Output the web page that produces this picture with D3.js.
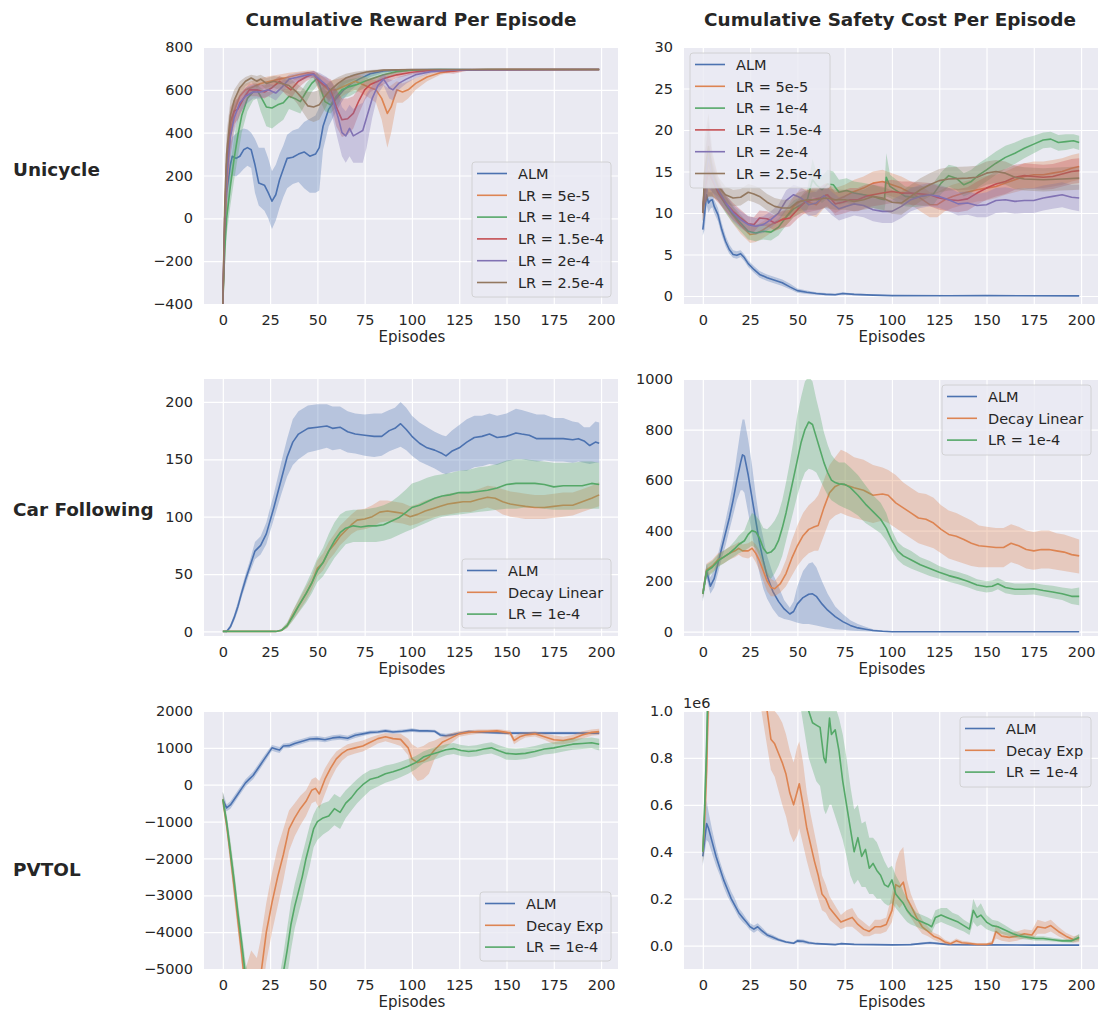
<!DOCTYPE html>
<html><head><meta charset="utf-8">
<script src="https://cdn.jsdelivr.net/npm/d3@7"></script>
<style>body{margin:0;background:#fff}svg{display:block}text{font-family:"DejaVu Sans",sans-serif;fill:#262626}</style>
</head><body><svg id="c" width="1099" height="1013"></svg>
<script>
// ---------- tick labels ----------
const episodeTicks = [0,25,50,75,100,125,150,175,200];
const uniRewardTicks = [-400,-200,0,200,400,600,800];
const uniCostTicks = [0,5,10,15,20,25,30];
const carRewardTicks = [0,50,100,150,200];
const carCostTicks = [0,200,400,600,800,1000];
const pvRewardTicks = [-5000,-4000,-3000,-2000,-1000,0,1000,2000];
const pvCostTicks = [0.0,0.2,0.4,0.6,0.8,1.0];

const colTitles = ["Cumulative Reward Per Episode","Cumulative Safety Cost Per Episode"];
const rowTitles = ["Unicycle","Car Following","PVTOL"];
const uniNames = ["ALM","LR = 5e-5","LR = 1e-4","LR = 1.5e-4","LR = 2e-4","LR = 2.5e-4"];
const carNames = ["ALM","Decay Linear","LR = 1e-4"];
const pvNames = ["ALM","Decay Exp","LR = 1e-4"];

// ---------- data: [episode, mean, lower, upper] ----------
const uniRewAlm = [[0,-400,-400,-400],[1,-50,-150,50],[2,120,0,230],[4,250,150,350],[5,290,200,380],[7,280,195,395],[9,290,210,410],[11,320,230,420],[13,330,245,415],[15,320,235,400],[17,250,120,370],[19,165,60,330],[22,155,35,330],[24,120,0,280],[26,80,-50,220],[28,110,-10,250],[30,180,50,300],[32,230,100,340],[34,280,140,390],[37,285,160,410],[40,300,170,420],[43,310,140,450],[46,290,120,465],[49,300,120,480],[51,330,130,520],[53,430,320,550],[56,510,430,590],[60,560,500,630],[64,600,560,650],[68,630,600,670],[72,650,630,680],[78,675,660,690],[85,688,680,694],[95,694,690,697],[110,695,694,697],[199,695,695,695]];
const uniRew5e5 = [[0,-400,-400,-400],[1,-100,-200,0],[2,150,50,250],[4,400,300,480],[6,500,420,560],[9,570,520,610],[12,600,570,630],[15,610,580,640],[20,630,600,655],[25,640,615,665],[30,650,625,672],[35,660,640,680],[40,670,650,685],[45,680,665,690],[48,675,655,690],[50,650,610,680],[53,620,570,660],[56,600,560,640],[60,600,550,650],[65,620,580,660],[70,640,600,670],[74,625,580,665],[78,610,560,650],[81,600,540,645],[84,560,460,630],[87,490,330,610],[89,520,400,620],[92,600,540,640],[95,590,540,630],[98,600,560,640],[102,630,600,655],[108,660,640,675],[115,680,670,690],[125,693,688,697],[140,695,694,697],[199,695,695,695]];
const uniRew1e4 = [[0,-400,-400,-400],[1,-150,-250,-50],[2,0,-80,80],[4,150,60,250],[6,280,180,380],[8,390,290,480],[10,480,400,550],[13,560,500,610],[16,590,550,620],[18,600,560,625],[20,570,500,610],[23,520,430,590],[26,515,420,590],[29,530,440,600],[32,540,460,600],[35,570,510,610],[38,560,500,600],[41,545,490,590],[44,590,540,630],[47,630,590,660],[50,655,620,680],[52,600,540,650],[54,545,500,600],[57,530,490,580],[60,570,520,610],[63,600,560,640],[67,615,570,650],[71,625,590,655],[75,640,610,665],[80,655,630,675],[85,670,650,685],[92,685,675,692],[100,692,688,696],[115,695,693,697],[133,693,688,697],[140,695,694,697],[199,695,695,695]];
const uniRew15e4 = [[0,-400,-400,-400],[1,0,-100,100],[2,250,130,350],[4,450,370,520],[6,500,440,550],[8,510,460,560],[11,560,520,600],[14,600,570,630],[18,600,570,630],[22,590,560,620],[26,610,580,640],[30,640,610,665],[33,620,580,650],[36,600,560,640],[40,640,610,665],[44,660,640,680],[48,675,660,688],[51,640,600,670],[54,620,570,660],[57,600,540,650],[60,520,430,600],[63,460,380,560],[66,465,390,560],[69,490,420,570],[72,550,490,610],[75,600,550,640],[78,625,590,655],[82,640,610,665],[86,655,630,675],[92,670,655,685],[100,682,672,690],[110,690,685,695],[122,688,675,697],[130,694,690,697],[199,695,695,695]];
const uniRew2e4 = [[0,-400,-400,-400],[1,0,-100,100],[2,200,80,320],[4,380,280,460],[6,470,400,530],[9,540,490,580],[12,570,530,610],[16,590,560,625],[20,590,560,625],[24,600,570,630],[28,585,550,620],[31,610,580,640],[35,650,625,670],[40,660,640,680],[45,670,655,685],[48,672,655,688],[51,650,610,680],[55,620,560,660],[58,560,470,630],[61,470,360,580],[63,400,290,520],[65,385,260,500],[67,420,290,530],[69,385,260,510],[72,400,260,530],[74,410,260,540],[76,470,330,580],[79,560,470,620],[82,620,580,650],[85,650,620,675],[88,610,560,650],[90,600,550,645],[93,630,600,660],[97,650,630,670],[102,670,655,685],[110,685,678,692],[120,693,688,697],[199,695,695,695]];
const uniRew25e4 = [[0,-400,-400,-400],[1,50,-50,150],[2,300,180,400],[4,480,400,550],[6,550,490,600],[9,610,570,640],[12,640,615,660],[15,655,635,670],[18,640,610,665],[20,650,625,670],[23,630,600,655],[27,640,610,665],[31,630,595,660],[35,620,580,655],[39,590,540,630],[42,560,500,610],[45,525,460,590],[48,520,450,590],[51,530,460,600],[54,570,510,620],[57,600,560,640],[61,630,600,660],[65,655,630,675],[70,670,650,685],[76,683,672,692],[85,692,686,697],[100,695,693,697],[199,695,695,695]];

const uniCostAlm = [[0,8,7.3,9],[1,10,8,11.5],[2,12.2,11,13.5],[3,11.2,10,12.5],[4,11.5,10.5,12.5],[5,11.6,10.7,12.5],[6,10.8,10,11.6],[8,9.8,9,10.6],[10,8,7.3,8.8],[12,6.6,6,7.3],[14,5.6,5.1,6.2],[16,5,4.6,5.5],[18,4.9,4.5,5.4],[20,5.1,4.7,5.5],[22,4.6,4.2,5],[24,3.9,3.5,4.3],[27,3.2,2.8,3.6],[30,2.6,2.2,3],[34,2.2,1.8,2.6],[38,1.9,1.5,2.3],[42,1.6,1.2,2],[46,1.1,0.8,1.5],[50,0.65,0.4,0.9],[55,0.45,0.25,0.65],[60,0.3,0.15,0.45],[65,0.2,0.1,0.35],[70,0.15,0.05,0.3],[74,0.3,0.15,0.45],[80,0.2,0.1,0.3],[90,0.1,0.05,0.2],[100,0.05,0.02,0.1],[130,0.03,0,0.06],[150,0.04,0,0.08],[199,0.02,0,0.04]];
const uniCost5e5 = [[0,10,9,11],[1,14,11,17],[3,16,12,20],[5,14.5,12,17],[8,13,11.5,14.5],[11,11.5,10.5,12.5],[15,10,9,11],[20,8.5,7.5,9.5],[25,7.4,6.4,8.4],[28,7.5,6.5,8.5],[32,8,7,9],[36,8.6,7.6,9.6],[40,9,8,10],[44,9.5,8.5,10.5],[48,10.8,9.5,12],[52,11.5,10,13],[56,11.3,9.8,12.8],[60,11,9.5,12.5],[65,12.2,10.8,13.6],[70,11.5,10,13],[75,12,10.6,13.4],[80,12.6,11.2,14],[85,13,11.6,14.4],[90,13.6,12.2,15],[95,13.8,12.4,15.2],[100,13.4,12,14.8],[105,13,11.6,14.4],[110,12.4,11,13.8],[115,11.8,10.2,13.4],[120,11,9.5,12.5],[124,11,9.5,12.5],[128,11.6,10.2,13],[132,12,10.6,13.4],[138,12.4,11,13.8],[145,12.8,11.4,14.2],[150,13,11.5,14.5],[155,13.2,11.8,14.6],[160,13.6,12.2,15],[165,14,12.5,15.5],[170,14.4,12.8,16],[175,14.6,13,16.2],[180,14.6,13,16.2],[185,14.8,13.2,16.4],[190,15,13.4,16.6],[195,15.4,13.8,17],[199,15.6,14,17.2]];
const uniCost1e4 = [[0,10,9,11],[1,13,11,15],[3,15,12,18],[5,14,12,16],[8,12.5,11.5,13.5],[12,11,10,12],[16,9.8,8.8,10.8],[20,8.8,7.8,9.8],[24,7.8,6.8,8.8],[28,7.6,6.6,8.6],[32,7.8,6.8,8.8],[36,7.7,6.7,8.7],[40,8.3,7.3,9.3],[44,9.5,8.5,10.5],[48,10.5,9.5,11.5],[52,11,10,12],[55,11.4,10.3,12.5],[58,14,12,16.5],[60,13.4,11.8,15],[63,12.8,11.2,14.4],[66,13.5,11.8,15.2],[69,13.4,11.8,15],[72,12.5,11,14],[76,12.7,11.2,14.2],[80,12.4,11,13.8],[85,12.2,10.8,13.6],[90,12,10.6,13.4],[94,11.7,10.3,13.1],[96,11.6,10.2,13],[97,14.3,12,17.2],[99,13.2,11.8,14.6],[103,12.6,11.3,13.9],[107,12,10.8,13.2],[112,11.9,10.7,13.1],[118,12.1,10.9,13.3],[122,12.3,11,13.6],[126,13.6,12.3,14.9],[130,14.5,13.2,15.8],[134,14.2,12.8,15.6],[138,13.4,12,14.8],[142,13.8,12.4,15.2],[146,14.6,13.2,16],[150,15.2,13.8,16.6],[155,16,14.6,17.4],[160,16.7,15.3,18.1],[165,17.2,15.9,18.5],[170,17.8,16.6,19],[175,18.3,17.2,19.3],[180,18.8,17.8,19.7],[184,18.9,17.9,19.8],[188,18.5,17.5,19.4],[192,18.6,17.6,19.5],[196,18.7,17.8,19.5],[199,18.5,17.6,19.3]];
const uniCost15e4 = [[0,10,9,11],[1,13,11,15],[3,15,12,18],[5,14,12,16],[8,12.5,11.3,13.7],[12,11.2,10.2,12.2],[16,10.2,9.2,11.2],[20,9.4,8.4,10.4],[24,8.7,7.8,9.6],[27,8.6,7.7,9.5],[30,9.4,8.5,10.3],[34,9.3,8.4,10.2],[38,8.8,7.9,9.7],[42,9.2,8.2,10.2],[46,9.4,8.4,10.4],[50,10.4,9.3,11.5],[54,11.3,10,12.6],[58,11.6,10.2,13],[62,11.8,10.4,13.2],[66,12.2,10.8,13.6],[70,11.1,9.7,12.5],[74,11.3,9.9,12.7],[78,11.6,10.2,13],[82,11.6,10.2,13],[86,12,10.6,13.4],[90,12.2,10.8,13.6],[95,12.4,11,13.8],[100,12.6,11.2,14],[105,12.4,11,13.8],[110,12.4,11,13.8],[115,12.3,10.9,13.7],[120,12.2,10.8,13.6],[125,11.8,10.4,13.2],[130,11.6,10.2,13],[135,11.5,10.1,12.9],[140,11.7,10.3,13.1],[145,12.4,11,13.8],[150,13,11.6,14.4],[155,13.5,12,15],[160,13.8,12.3,15.3],[165,14.3,12.8,15.8],[170,14.5,13,16],[175,14.4,12.9,15.9],[180,14.3,12.8,15.8],[185,14.4,12.9,15.9],[190,14.7,13.2,16.2],[195,15,13.5,16.5],[199,15.1,13.6,16.6]];
const uniCost2e4 = [[0,10,9,11],[1,14,11,17],[3,17,13,21],[5,14.5,12.5,16.5],[8,12.8,11.5,14],[12,11.3,10.3,12.3],[16,10,9,11],[20,9.2,8.2,10.2],[24,8.6,7.6,9.6],[28,8.4,7.4,9.4],[32,8.6,7.6,9.6],[36,9.2,8.2,10.2],[40,10,9,11],[44,11.5,10.3,12.7],[48,12.2,11,13.4],[52,11.8,10.5,13.1],[56,11,9.6,12.4],[60,11.2,9.8,12.6],[64,12.1,10.7,13.5],[68,11.2,9.8,12.6],[72,10.5,9.1,11.9],[76,10.8,9.4,12.2],[80,11.1,9.7,12.5],[85,10.9,9.5,12.3],[90,10.4,9,11.8],[95,10.2,8.8,11.6],[100,10.2,8.8,11.6],[105,10.8,9.4,12.2],[110,11.6,10.2,13],[115,12,10.6,13.4],[120,12.2,10.8,13.6],[125,12,10.6,13.4],[130,11.6,10.2,13],[135,11.1,9.7,12.5],[140,11.2,9.8,12.6],[145,10.9,9.5,12.3],[150,11,9.5,12.5],[155,11.5,10,13],[160,11.6,10.1,13.1],[165,11.4,9.9,12.9],[170,11.5,10,13],[175,11.5,10,13],[180,11.8,10.3,13.3],[185,12,10.5,13.5],[190,12.2,10.7,13.7],[195,11.9,10.4,13.4],[199,11.8,10.2,13.4]];
const uniCost25e4 = [[0,10,9,11],[1,15,11,19],[3,18,14,22],[5,15,12.5,17.5],[8,13.2,12,14.4],[12,12.2,11.2,13.2],[16,11.8,10.8,12.8],[20,11.9,10.9,12.9],[24,12.5,11.5,13.5],[27,12.3,11.3,13.3],[30,12,11,13],[34,11.3,10.3,12.3],[38,10.8,9.8,11.8],[42,10.6,9.6,11.6],[46,10.6,9.6,11.6],[50,11.3,10.2,12.4],[55,11.6,10.4,12.8],[60,11.6,10.4,12.8],[65,11.8,10.6,13],[70,11.6,10.4,12.8],[75,11.6,10.4,12.8],[80,11.4,10.2,12.6],[85,11.6,10.4,12.8],[90,12,10.6,13.4],[95,11.8,10.4,13.2],[100,11.3,9.9,12.7],[105,11.2,9.8,12.6],[110,12,10.6,13.4],[115,12.8,11.4,14.2],[120,13.4,12,14.8],[125,13.9,12.5,15.3],[130,14.1,12.7,15.5],[140,14.2,12.8,15.6],[145,14.3,12.9,15.7],[150,14.8,13.4,16.2],[155,15,13.6,16.4],[160,14.8,13.4,16.2],[165,14.3,12.9,15.7],[170,14.1,12.7,15.5],[180,14,12.6,15.4],[190,14.1,12.7,15.5],[199,14.2,12.8,15.6]];

const carRewAlm = [[0,0,0,0],[2,0,-1,1],[4,4,2,6],[6,12,9,15],[8,22,18,26],[10,34,30,38],[12,45,40,50],[14,55,50,60],[17,70,63,78],[20,75,67,83],[23,85,76,95],[27,108,98,120],[31,133,120,148],[34,152,135,168],[37,165,145,185],[40,172,150,192],[45,177,156,197],[50,178,158,198],[55,179,160,198],[58,177,158,196],[62,178,159,196],[66,174,156,192],[70,172,155,190],[75,171,153,189],[80,170,152,190],[84,170,153,190],[88,175,157,193],[91,177,159,195],[94,181,161,200],[97,176,158,195],[100,170,153,188],[104,164,148,182],[108,160,145,178],[112,158,142,174],[116,155,138,171],[118,153,137,170],[121,157,139,175],[125,160,140,180],[129,165,140,185],[133,169,143,188],[137,170,144,188],[141,172,146,190],[145,169,145,188],[150,170,148,190],[155,173,150,194],[158,172,150,193],[162,171,149,191],[166,168,148,189],[170,168,149,189],[175,168,148,186],[180,168,148,186],[185,167,147,183],[188,168,148,182],[191,166,147,178],[194,162,146,178],[197,165,147,183],[199,164,147,182]];
const carRewDecay = [[0,0,0,0],[10,0,0,0],[20,0,0,0],[28,0,0,0],[31,1,0,2],[34,5,3,7],[37,14,10,18],[40,22,17,27],[44,33,27,39],[47,42,36,48],[50,55,48,62],[53,60,53,68],[56,70,62,78],[59,76,68,85],[62,83,75,92],[65,88,80,97],[68,93,85,102],[71,97,88,106],[75,98,89,107],[79,100,91,110],[83,104,95,114],[87,105,96,114],[91,104,95,113],[95,103,94,112],[99,100,92,109],[103,102,94,111],[107,105,97,114],[111,107,99,116],[115,109,101,118],[119,111,102,120],[123,112,103,121],[127,113,104,122],[131,113,104,122],[135,115,106,124],[140,117,108,127],[144,116,106,126],[148,113,102,124],[152,111,100,122],[156,110,99,121],[160,109,98,120],[165,108,98,119],[170,108,98,119],[175,109,99,120],[180,110,100,121],[185,110,101,121],[190,113,104,124],[195,116,107,127],[199,119,109,130]];
const carRewLr = [[0,0,0,0],[10,0,0,0],[20,0,0,0],[28,0,0,0],[31,1,0,2],[34,5,3,8],[37,13,9,18],[40,22,16,28],[44,33,25,41],[47,42,33,52],[50,53,43,64],[53,60,48,73],[56,70,56,85],[59,79,64,95],[62,86,70,102],[65,90,76,105],[69,92,78,106],[73,91,78,106],[77,92,78,107],[81,92,78,108],[85,93,79,110],[89,96,81,113],[93,99,84,118],[97,104,87,124],[100,108,89,129],[104,110,92,131],[108,113,95,134],[112,116,98,136],[116,118,100,137],[120,119,101,138],[125,121,102,140],[130,121,103,141],[135,122,104,143],[140,123,105,144],[145,125,106,146],[150,128,107,149],[155,129,107,150],[160,129,108,150],[165,129,108,149],[170,128,107,148],[175,126,106,147],[180,127,106,147],[185,127,106,147],[190,127,107,148],[195,129,107,148],[199,128,107,147]];

const carCostAlm = [[0,150,120,180],[2,240,210,270],[4,180,150,215],[6,210,175,245],[8,270,230,305],[10,330,290,370],[12,390,340,440],[14,450,400,510],[16,520,460,590],[18,600,520,700],[20,670,560,800],[21,700,560,840],[22,695,550,840],[24,620,470,760],[26,530,390,660],[28,440,300,540],[30,350,230,440],[32,280,170,370],[34,220,130,300],[37,160,90,230],[40,120,60,180],[43,90,50,125],[46,70,45,95],[48,80,40,120],[50,110,35,180],[53,135,30,240],[56,148,30,270],[58,150,28,275],[60,140,25,255],[63,110,20,200],[66,85,15,150],[70,60,10,100],[74,40,8,70],[78,25,5,45],[82,15,3,30],[86,10,2,20],[90,5,1,10],[95,2,0,5],[100,0,0,2],[150,0,0,1],[199,0,0,1]];
const carCostDecay = [[0,150,130,170],[2,245,220,270],[5,260,235,285],[8,285,260,310],[11,295,270,320],[14,310,285,335],[17,320,295,345],[19,330,305,355],[21,320,295,345],[24,320,290,350],[26,330,300,360],[28,310,275,345],[30,280,240,320],[32,240,200,280],[34,200,160,240],[36,175,140,210],[38,170,140,200],[41,190,155,230],[44,230,180,285],[47,290,220,360],[50,340,260,420],[53,380,290,470],[56,405,310,500],[59,415,320,520],[61,420,320,540],[64,490,380,600],[67,550,440,660],[70,575,460,690],[73,585,470,720],[76,580,460,710],[80,570,450,690],[85,560,440,680],[90,540,430,660],[95,545,440,650],[98,540,430,640],[102,510,410,620],[106,490,390,590],[110,470,370,570],[114,450,350,550],[118,445,340,545],[122,430,330,530],[126,405,310,500],[130,385,290,480],[134,378,280,470],[138,365,270,455],[142,350,260,440],[146,340,255,420],[150,337,255,415],[155,333,255,410],[159,333,255,410],[163,350,275,425],[167,340,265,415],[171,325,250,400],[175,320,245,395],[179,325,250,400],[183,325,250,400],[187,320,245,390],[191,315,240,385],[195,305,235,375],[199,300,230,365]];
const carCostLr = [[0,150,130,170],[2,240,215,265],[5,255,230,280],[8,280,255,305],[11,295,270,320],[14,310,285,335],[17,330,300,360],[19,345,310,380],[22,360,320,400],[24,385,330,440],[26,400,340,470],[28,395,330,460],[30,370,300,440],[32,330,250,410],[34,310,220,405],[36,315,210,420],[38,330,230,440],[40,360,260,470],[42,410,300,520],[44,470,360,590],[46,540,420,670],[48,610,480,760],[50,680,540,860],[52,750,590,930],[54,800,630,990],[56,830,645,1010],[58,820,640,990],[60,770,630,920],[62,720,600,860],[64,670,570,790],[66,630,540,740],[68,600,520,700],[70,590,510,680],[72,585,500,670],[75,583,490,670],[78,570,480,650],[82,540,460,620],[86,505,430,580],[90,475,410,540],[94,445,390,510],[97,410,360,470],[100,360,320,400],[103,320,285,355],[106,300,265,335],[110,285,250,320],[115,265,235,295],[120,250,220,280],[125,235,210,260],[130,222,198,246],[135,212,188,236],[140,200,176,224],[145,185,162,208],[150,178,155,200],[153,180,158,203],[156,190,168,213],[160,175,152,198],[165,168,145,191],[170,168,145,191],[175,170,147,193],[180,163,140,186],[185,157,132,182],[190,150,125,175],[195,140,110,170],[199,140,105,175]];

const pvRewAlm = [[0,-400,-600,-200],[2,-630,-720,-540],[4,-550,-650,-450],[6,-400,-500,-300],[8,-250,-350,-150],[10,-100,-200,0],[12,50,-50,150],[14,150,50,250],[16,250,150,350],[18,400,300,500],[20,550,450,650],[22,700,600,800],[24,850,760,940],[26,1000,920,1080],[28,970,890,1050],[30,940,860,1020],[32,1050,980,1120],[35,1060,990,1130],[38,1120,1050,1190],[42,1180,1110,1250],[46,1240,1170,1310],[50,1250,1180,1320],[54,1220,1150,1290],[58,1270,1200,1340],[62,1290,1220,1360],[66,1260,1190,1330],[70,1340,1270,1410],[74,1380,1320,1440],[78,1420,1370,1470],[82,1430,1380,1480],[86,1460,1410,1510],[90,1430,1380,1480],[95,1450,1400,1500],[100,1480,1430,1530],[104,1460,1420,1500],[108,1460,1420,1500],[112,1450,1410,1490],[115,1350,1300,1400],[118,1330,1280,1380],[122,1360,1310,1410],[126,1400,1360,1440],[130,1440,1400,1480],[140,1420,1380,1460],[150,1400,1360,1440],[170,1400,1360,1440],[199,1400,1360,1440]];
const pvRewDecay = [[0,-400,-600,-200],[2,-1100,-1300,-900],[4,-1900,-2200,-1600],[6,-2800,-3100,-2500],[8,-3700,-4000,-3400],[10,-4600,-4900,-4300],[12,-5600,-6000,-5000],[15,-6500,-7500,-4500],[18,-6000,-7000,-4700],[20,-5200,-6000,-4200],[23,-4000,-4800,-3200],[26,-3200,-4000,-2400],[29,-2500,-3300,-1700],[32,-1900,-2600,-1200],[35,-1200,-1800,-700],[38,-900,-1400,-500],[41,-650,-1100,-300],[44,-450,-850,-150],[47,-150,-500,150],[49,-100,-450,200],[51,-250,-650,100],[54,150,-250,450],[57,450,150,700],[60,700,450,900],[63,850,650,1000],[66,950,780,1100],[70,1000,850,1150],[74,1050,900,1200],[78,1150,1000,1280],[82,1250,1120,1350],[86,1300,1180,1400],[90,1250,1120,1380],[94,1230,1050,1380],[98,1000,800,1250],[100,700,300,1100],[103,600,100,1000],[106,650,150,1050],[109,750,300,1150],[112,950,700,1200],[116,1150,950,1300],[120,1250,1100,1380],[125,1380,1300,1460],[130,1420,1350,1480],[135,1440,1380,1500],[140,1450,1400,1500],[145,1460,1410,1510],[150,1420,1360,1480],[152,1400,1330,1470],[154,1200,1100,1300],[157,1300,1200,1400],[160,1350,1280,1420],[165,1380,1310,1450],[170,1300,1220,1380],[175,1220,1100,1340],[180,1200,1100,1300],[185,1250,1150,1350],[190,1350,1250,1450],[195,1420,1330,1500],[199,1440,1350,1520]];
const pvRewLr = [[0,-400,-600,-200],[2,-1000,-1200,-800],[4,-1800,-2100,-1500],[6,-2600,-2900,-2300],[8,-3500,-3800,-3200],[10,-4300,-4600,-4000],[12,-5200,-5600,-4800],[15,-6500,-7500,-5500],[20,-7500,-8500,-6500],[25,-7000,-8000,-6000],[30,-6000,-7000,-5200],[32,-5100,-5800,-4600],[34,-4500,-5200,-3900],[36,-3800,-4500,-3200],[38,-3300,-3900,-2700],[40,-2900,-3500,-2300],[42,-2500,-3100,-1900],[44,-2000,-2600,-1500],[46,-1600,-2200,-1100],[48,-1200,-1700,-800],[50,-1000,-1500,-600],[53,-900,-1350,-500],[56,-850,-1250,-450],[59,-650,-1100,-250],[62,-750,-1200,-350],[65,-500,-900,-150],[68,-350,-700,0],[71,-150,-500,150],[74,0,-350,280],[78,150,-150,400],[82,200,-50,450],[86,300,50,520],[90,350,120,560],[94,420,200,620],[98,500,300,700],[102,600,420,780],[106,750,580,900],[110,820,650,980],[114,880,720,1040],[118,950,800,1100],[122,980,830,1130],[126,930,780,1080],[130,900,750,1050],[134,920,770,1070],[138,970,820,1120],[142,1000,850,1150],[146,920,770,1070],[150,850,680,1000],[155,830,670,980],[160,850,700,1000],[165,900,750,1050],[170,970,820,1120],[175,1000,850,1150],[180,1050,900,1200],[185,1100,950,1250],[190,1120,970,1260],[195,1140,990,1280],[199,1100,930,1250]];

const pvCostAlm = [[0,0.38,0.34,0.42],[1,0.45,0.4,0.52],[2,0.52,0.45,0.62],[3,0.5,0.44,0.57],[5,0.44,0.39,0.49],[7,0.38,0.34,0.42],[9,0.33,0.3,0.36],[11,0.28,0.25,0.31],[13,0.24,0.21,0.27],[15,0.2,0.18,0.23],[17,0.17,0.15,0.2],[19,0.14,0.12,0.16],[21,0.12,0.1,0.14],[23,0.1,0.085,0.115],[25,0.08,0.065,0.095],[27,0.07,0.055,0.085],[29,0.08,0.065,0.095],[31,0.065,0.05,0.08],[34,0.045,0.035,0.055],[37,0.035,0.025,0.045],[40,0.025,0.018,0.032],[44,0.015,0.01,0.02],[48,0.01,0.005,0.015],[50,0.02,0.012,0.028],[53,0.018,0.01,0.026],[56,0.012,0.006,0.018],[60,0.008,0.004,0.012],[65,0.006,0.003,0.01],[70,0.004,0.002,0.008],[73,0.008,0.004,0.012],[80,0.005,0.002,0.008],[90,0.004,0.002,0.006],[100,0.003,0.001,0.005],[110,0.004,0.002,0.008],[115,0.008,0.004,0.012],[120,0.012,0.007,0.017],[125,0.008,0.004,0.012],[130,0.004,0.002,0.006],[150,0.003,0.001,0.005],[175,0.002,0.001,0.004],[199,0.002,0.001,0.004]];
const pvCostDecay = [[0,0.4,0.35,0.45],[1,0.55,0.45,0.65],[2,0.75,0.6,0.9],[3,1.1,0.9,1.3],[5,1.5,1.3,1.7],[15,1.6,1.4,1.8],[25,1.4,1.2,1.6],[31,1.15,1.0,1.3],[34,1.0,0.85,1.1],[36,0.88,0.75,1.0],[38,0.86,0.72,1.0],[40,0.82,0.66,0.98],[42,0.78,0.6,0.95],[44,0.73,0.55,0.9],[46,0.65,0.48,0.83],[48,0.6,0.44,0.78],[50,0.66,0.47,0.85],[51,0.69,0.5,0.87],[53,0.6,0.43,0.78],[55,0.5,0.36,0.65],[57,0.43,0.3,0.56],[59,0.36,0.25,0.48],[61,0.3,0.2,0.4],[63,0.22,0.15,0.3],[65,0.2,0.14,0.26],[67,0.16,0.11,0.21],[70,0.13,0.09,0.17],[73,0.1,0.07,0.13],[76,0.11,0.08,0.15],[79,0.12,0.08,0.16],[82,0.09,0.06,0.12],[85,0.07,0.04,0.1],[88,0.06,0.04,0.08],[91,0.08,0.05,0.11],[94,0.08,0.05,0.11],[97,0.09,0.06,0.12],[100,0.15,0.1,0.22],[102,0.26,0.18,0.35],[104,0.25,0.16,0.4],[106,0.27,0.18,0.42],[108,0.2,0.14,0.28],[110,0.17,0.12,0.22],[113,0.12,0.08,0.16],[116,0.08,0.05,0.11],[119,0.06,0.04,0.08],[122,0.04,0.025,0.055],[125,0.03,0.015,0.045],[128,0.015,0.005,0.025],[131,0.008,0.002,0.015],[134,0.02,0.008,0.03],[137,0.012,0.004,0.02],[140,0.01,0.003,0.017],[145,0.005,0.001,0.01],[150,0.005,0.001,0.01],[153,0.01,0.003,0.02],[155,0.06,0.03,0.09],[158,0.04,0.02,0.06],[162,0.035,0.015,0.055],[166,0.04,0.02,0.06],[170,0.05,0.03,0.07],[174,0.045,0.025,0.065],[177,0.08,0.05,0.11],[181,0.075,0.05,0.1],[184,0.085,0.06,0.11],[188,0.06,0.04,0.08],[192,0.04,0.025,0.055],[196,0.025,0.012,0.04],[199,0.03,0.015,0.045]];
const pvCostLr = [[0,0.4,0.35,0.45],[1,0.6,0.5,0.7],[2,0.85,0.7,1.0],[3,1.2,1.0,1.4],[5,1.6,1.4,1.8],[20,1.8,1.6,2.0],[40,1.5,1.3,1.7],[52,1.15,1.0,1.3],[56,1.0,0.8,1.2],[58,0.95,0.75,1.15],[60,0.94,0.7,1.15],[62,0.93,0.68,1.12],[64,0.8,0.58,1.05],[65,0.78,0.56,1.02],[67,0.97,0.6,1.1],[68,0.9,0.6,1.05],[70,0.92,0.55,1.02],[72,0.83,0.5,0.97],[74,0.7,0.45,0.9],[76,0.6,0.38,0.8],[78,0.5,0.3,0.68],[80,0.4,0.26,0.58],[82,0.46,0.28,0.6],[84,0.38,0.25,0.52],[86,0.41,0.25,0.53],[88,0.33,0.22,0.46],[90,0.35,0.22,0.46],[92,0.32,0.2,0.44],[94,0.3,0.2,0.4],[96,0.26,0.18,0.36],[98,0.25,0.17,0.33],[100,0.28,0.18,0.34],[102,0.22,0.16,0.3],[104,0.2,0.14,0.27],[106,0.18,0.12,0.23],[108,0.15,0.1,0.2],[110,0.13,0.09,0.17],[113,0.11,0.08,0.14],[116,0.1,0.07,0.13],[119,0.09,0.06,0.12],[121,0.08,0.055,0.11],[123,0.12,0.09,0.15],[126,0.13,0.1,0.16],[129,0.12,0.09,0.16],[132,0.11,0.08,0.14],[135,0.1,0.07,0.13],[138,0.085,0.06,0.11],[141,0.07,0.045,0.095],[143,0.15,0.1,0.2],[145,0.12,0.08,0.16],[147,0.13,0.09,0.18],[150,0.1,0.07,0.13],[153,0.085,0.06,0.11],[156,0.08,0.055,0.105],[160,0.065,0.045,0.085],[164,0.05,0.035,0.065],[168,0.04,0.028,0.052],[172,0.035,0.025,0.045],[176,0.03,0.02,0.04],[180,0.03,0.02,0.04],[185,0.025,0.017,0.033],[190,0.02,0.014,0.028],[195,0.02,0.012,0.028],[199,0.035,0.02,0.05]];

// ---------- drawing ----------
const palette = ['#4c72b0','#dd8452','#55a868','#c44e52','#8172b3','#937860'];
const svg = d3.select('#c');
const cols = [{x0:204,x1:618},{x0:684,x1:1098}];
const rows = [{y0:47,y1:304},{y0:379,y1:636},{y0:711,y1:969}];
const xDomain = [-9.95, 208.95];

const panels = [
  {r:0,c:0,dom:[-400,800],ticks:uniRewardTicks,fmt:d=>String(d),series:[uniRewAlm,uniRew5e5,uniRew1e4,uniRew15e4,uniRew2e4,uniRew25e4],names:uniNames,leg:{x:472,y:162,w:139,h:135}},
  {r:0,c:1,dom:[-0.964,30],ticks:uniCostTicks,fmt:d=>String(d),series:[uniCostAlm,uniCost5e5,uniCost1e4,uniCost15e4,uniCost2e4,uniCost25e4],names:uniNames,leg:{x:690,y:53,w:140,h:135}},
  {r:1,c:0,dom:[-4,220],ticks:carRewardTicks,fmt:d=>String(d),series:[carRewAlm,carRewDecay,carRewLr],names:carNames,leg:{x:462,y:559,w:149,h:69}},
  {r:1,c:1,dom:[-17,1000],ticks:carCostTicks,fmt:d=>String(d),series:[carCostAlm,carCostDecay,carCostLr],names:carNames,leg:{x:942,y:385,w:149,h:70}},
  {r:2,c:0,dom:[-5000,2000],ticks:pvRewardTicks,fmt:d=>String(d),series:[pvRewAlm,pvRewDecay,pvRewLr],names:pvNames,leg:{x:480,y:892,w:131,h:69}},
  {r:2,c:1,dom:[-0.1,1.0],ticks:pvCostTicks,fmt:d3.format('.1f'),series:[pvCostAlm,pvCostDecay,pvCostLr],names:pvNames,leg:{x:960,y:717,w:131,h:70},offset:'1e6'}
];

const minus = s => s.replace(/-/g,'\u2212');

panels.forEach((p,i)=>{
  const C = cols[p.c], R = rows[p.r];
  const x = d3.scaleLinear().domain(xDomain).range([C.x0,C.x1]);
  const y = d3.scaleLinear().domain(p.dom).range([R.y1,R.y0]);
  const g = svg.append('g');
  g.append('rect').attr('x',C.x0).attr('y',R.y0).attr('width',C.x1-C.x0).attr('height',R.y1-R.y0).attr('fill','#eaeaf2');
  const gx = g.append('g').attr('transform',`translate(0,${R.y1})`)
    .call(d3.axisBottom(x).tickValues(episodeTicks).tickSize(-(R.y1-R.y0)).tickFormat(''));
  const gy = g.append('g').attr('transform',`translate(${C.x0},0)`)
    .call(d3.axisLeft(y).tickValues(p.ticks).tickSize(-(C.x1-C.x0)).tickFormat(''));
  [gx,gy].forEach(a=>{a.select('.domain').remove();a.selectAll('line').attr('stroke','#fff').attr('stroke-width',1.2);});
  const cid = 'clip'+i;
  svg.append('clipPath').attr('id',cid).append('rect').attr('x',C.x0).attr('y',R.y0).attr('width',C.x1-C.x0).attr('height',R.y1-R.y0);
  const pg = g.append('g').attr('clip-path',`url(#${cid})`);
  const area = d3.area().x(d=>x(d[0])).y0(d=>y(d[2])).y1(d=>y(d[3]));
  const line = d3.line().x(d=>x(d[0])).y(d=>y(d[1]));
  p.series.forEach((s,k)=>{
    pg.append('path').attr('d',area(s)).attr('fill',palette[k]).attr('fill-opacity',0.32).attr('stroke','none');
    pg.append('path').attr('d',line(s)).attr('fill','none').attr('stroke',palette[k]).attr('stroke-width',1.6).attr('stroke-linejoin','round');
  });
  const ax = g.append('g').attr('transform',`translate(0,${R.y1})`)
    .call(d3.axisBottom(x).tickValues(episodeTicks).tickSize(0).tickPadding(11).tickFormat(d=>String(d)));
  const ay = g.append('g').attr('transform',`translate(${C.x0},0)`)
    .call(d3.axisLeft(y).tickValues(p.ticks).tickSize(0).tickPadding(11).tickFormat(d=>minus(p.fmt(d))));
  [ax,ay].forEach(a=>{a.select('.domain').remove();a.attr('font-family',null).attr('font-size',null);
    a.selectAll('text').attr('font-size','14.5px').attr('fill','#262626').style('font-family','"DejaVu Sans",sans-serif');});
  g.append('text').attr('x',(x(0)+x(200))/2).attr('y',R.y1+38).attr('text-anchor','middle').attr('font-size','15px').text('Episodes');
  if(p.offset) g.append('text').attr('x',C.x0-1).attr('y',R.y0-3).attr('font-size','14.5px').text(p.offset);
  const L = p.leg;
  const lg = g.append('g');
  lg.append('rect').attr('x',L.x).attr('y',L.y).attr('width',L.w).attr('height',L.h).attr('rx',3)
    .attr('fill','#eaeaf2').attr('fill-opacity',0.8).attr('stroke','#cccccc').attr('stroke-width',0.8);
  p.names.forEach((n,k)=>{
    const cy = L.y + 11.5 + k*21.8;
    lg.append('line').attr('x1',L.x+5).attr('x2',L.x+35).attr('y1',cy).attr('y2',cy).attr('stroke',palette[k]).attr('stroke-width',1.6);
    lg.append('text').attr('x',L.x+46).attr('y',cy).attr('dy','0.36em').attr('font-size','14.5px').text(n);
  });
});

colTitles.forEach((t,c)=>{
  svg.append('text').attr('x',(cols[c].x0+cols[c].x1)/2 + (c===0?0:-1)).attr('y',26).attr('text-anchor','middle')
    .attr('font-size','18.4px').attr('font-weight','bold').text(t);
});
const rowLabelY = [176,516,876];
rowTitles.forEach((t,r)=>{
  svg.append('text').attr('x',13).attr('y',rowLabelY[r]).attr('font-size','18.4px').attr('font-weight','bold').text(t);
});
</script></body></html>
